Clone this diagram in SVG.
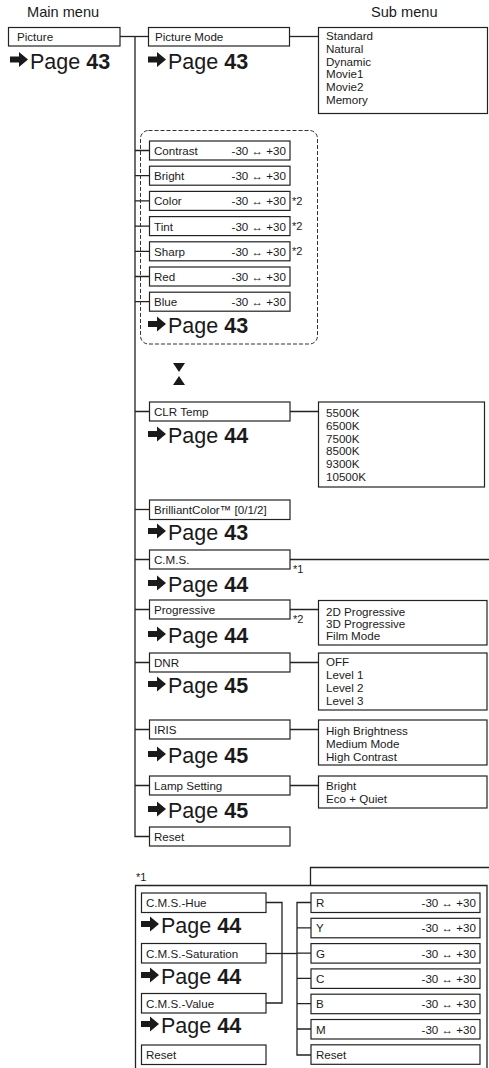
<svg xmlns="http://www.w3.org/2000/svg" xmlns:xlink="http://www.w3.org/1999/xlink" width="489" height="1068" viewBox="0 0 489 1068">
<style>
text{font-family:"Liberation Sans",Arial,sans-serif;fill:#1a1a1a}
.t{font-size:14.6px}
.l{font-size:11.6px}
.n{font-size:11px}
.p{font-size:21.5px}
.b{font-weight:bold}
.box{fill:#fff;stroke:#222;stroke-width:1.2}
.ln{fill:none;stroke:#222;stroke-width:1.3}
.dash{fill:none;stroke:#333;stroke-width:1;stroke-dasharray:4 2}
.r{text-anchor:end}
</style>
<defs>
<path id="arr" d="M0,-3 H9 V-7.5 L18,0 L9,7.5 V3 H0 Z" fill="#1a1a1a"/>
</defs>
<g id="titles">
<text class="t" x="27" y="17">Main menu</text>
<text class="t" x="371" y="17">Sub menu</text>
</g>
<g id="connectors">
<path class="ln" d="M120 36.5 H148.5"/>
<path class="ln" d="M135 36.5 V836.5 H149"/>
<path class="ln" d="M289.5 36.5 H318.5"/>
<path class="ln" d="M135 150.5 H149 M135 175.7 H149 M135 200.9 H149 M135 226.1 H149 M135 251.3 H149 M135 276.5 H149 M135 301.7 H149"/>
<path class="ln" d="M135 411.5 H149 M290 411.5 H318.5"/>
<path class="ln" d="M135 509.5 H149"/>
<path class="ln" d="M135 559.5 H149 M290 559.5 H489"/>
<path class="ln" d="M135 609.5 H149 M290 609.5 H318.5"/>
<path class="ln" d="M135 662.5 H149 M290 662.5 H318.5"/>
<path class="ln" d="M135 729.5 H149 M290 729.5 H318.5"/>
<path class="ln" d="M135 785.5 H149 M290 785.5 H318.5"/>
<path class="ln" d="M310.5 885.5 V867.5 H489"/>
<path class="ln" d="M266 902.5 H282 V1003 H266"/>
<path class="ln" d="M266 953.5 H297"/>
<path class="ln" d="M311 902.5 H297 V1055 H311 M297 927.8 H311 M297 953.1 H311 M297 978.4 H311 M297 1003.7 H311 M297 1029 H311"/>
</g>
<g id="picture">
<rect class="box" x="8.5" y="27.5" width="111.5" height="18.5"/>
<text class="l" x="17" y="40.5">Picture</text>
<use xlink:href="#arr" x="10" y="59.5"/>
<text class="p" x="30" y="68.5">Page <tspan class="b">43</tspan></text>
</g>
<g id="picture-mode">
<rect class="box" x="148.5" y="27.5" width="141" height="18.5"/>
<text class="l" x="155" y="40.5">Picture Mode</text>
<use xlink:href="#arr" x="148" y="59.5"/>
<text class="p" x="168" y="68.5">Page <tspan class="b">43</tspan></text>
</g>
<g id="picture-mode-sub">
<rect class="box" x="318.5" y="27.5" width="169" height="86"/>
<text class="l" x="326" y="40">Standard</text>
<text class="l" x="326" y="52.8">Natural</text>
<text class="l" x="326" y="65.6">Dynamic</text>
<text class="l" x="326" y="78.4">Movie1</text>
<text class="l" x="326" y="91.2">Movie2</text>
<text class="l" x="326" y="104">Memory</text>
</g>
<g id="adjust-group">
<rect class="dash" x="140.5" y="130.5" width="177" height="213.5" rx="8"/>
<rect class="box" x="149.5" y="141" width="140.5" height="19"/>
<text class="l" x="154" y="155">Contrast</text><text class="l r" x="286" y="155">-30 ↔ +30</text>
<rect class="box" x="149.5" y="166.2" width="140.5" height="19"/>
<text class="l" x="154" y="180.2">Bright</text><text class="l r" x="286" y="180.2">-30 ↔ +30</text>
<rect class="box" x="149.5" y="191.4" width="140.5" height="19"/>
<text class="l" x="154" y="205.4">Color</text><text class="l r" x="286" y="205.4">-30 ↔ +30</text><text class="n" x="292" y="205">*2</text>
<rect class="box" x="149.5" y="216.6" width="140.5" height="19"/>
<text class="l" x="154" y="230.6">Tint</text><text class="l r" x="286" y="230.6">-30 ↔ +30</text><text class="n" x="292" y="230.2">*2</text>
<rect class="box" x="149.5" y="241.8" width="140.5" height="19"/>
<text class="l" x="154" y="255.8">Sharp</text><text class="l r" x="286" y="255.8">-30 ↔ +30</text><text class="n" x="292" y="255.4">*2</text>
<rect class="box" x="149.5" y="267" width="140.5" height="19"/>
<text class="l" x="154" y="281">Red</text><text class="l r" x="286" y="281">-30 ↔ +30</text>
<rect class="box" x="149.5" y="292.2" width="140.5" height="19"/>
<text class="l" x="154" y="306.2">Blue</text><text class="l r" x="286" y="306.2">-30 ↔ +30</text>
<use xlink:href="#arr" x="148" y="324"/>
<text class="p" x="168" y="333">Page <tspan class="b">43</tspan></text>
</g>
<g id="updown">
<polygon points="173,363 185,363 179,372" fill="#1a1a1a"/>
<polygon points="179,376 173,385 185,385" fill="#1a1a1a"/>
</g>
<g id="clr-temp">
<rect class="box" x="149.5" y="402" width="140.5" height="19"/>
<text class="l" x="154" y="416">CLR Temp</text>
<use xlink:href="#arr" x="148" y="434"/>
<text class="p" x="168" y="443">Page <tspan class="b">44</tspan></text>
</g>
<g id="clr-temp-sub">
<rect class="box" x="318.5" y="402" width="166" height="85"/>
<text class="l" x="326" y="416.7">5500K</text>
<text class="l" x="326" y="429.6">6500K</text>
<text class="l" x="326" y="442.5">7500K</text>
<text class="l" x="326" y="455.4">8500K</text>
<text class="l" x="326" y="468.3">9300K</text>
<text class="l" x="326" y="481.2">10500K</text>
</g>
<g id="brilliantcolor">
<rect class="box" x="149.5" y="500" width="140.5" height="19.5"/>
<text class="l" x="154" y="514">BrilliantColor™ [0/1/2]</text>
<use xlink:href="#arr" x="148" y="531"/>
<text class="p" x="168" y="540">Page <tspan class="b">43</tspan></text>
</g>
<g id="cms">
<rect class="box" x="149.5" y="550" width="140.5" height="19"/>
<text class="l" x="154" y="564">C.M.S.</text>
<text class="n" x="293" y="573">*1</text>
<use xlink:href="#arr" x="148" y="583"/>
<text class="p" x="168" y="592">Page <tspan class="b">44</tspan></text>
</g>
<g id="progressive">
<rect class="box" x="149.5" y="600" width="140.5" height="19"/>
<text class="l" x="154" y="614">Progressive</text>
<text class="n" x="293" y="623">*2</text>
<use xlink:href="#arr" x="148" y="634"/>
<text class="p" x="168" y="643">Page <tspan class="b">44</tspan></text>
</g>
<g id="progressive-sub">
<rect class="box" x="318.5" y="600.5" width="168.5" height="44.5"/>
<text class="l" x="326" y="616">2D Progressive</text>
<text class="l" x="326" y="628">3D Progressive</text>
<text class="l" x="326" y="640">Film Mode</text>
</g>
<g id="dnr">
<rect class="box" x="149.5" y="653" width="140.5" height="19"/>
<text class="l" x="154" y="667">DNR</text>
<use xlink:href="#arr" x="148" y="684"/>
<text class="p" x="168" y="693">Page <tspan class="b">45</tspan></text>
</g>
<g id="dnr-sub">
<rect class="box" x="318.5" y="653" width="168.5" height="57"/>
<text class="l" x="326" y="666">OFF</text>
<text class="l" x="326" y="679">Level 1</text>
<text class="l" x="326" y="692">Level 2</text>
<text class="l" x="326" y="705">Level 3</text>
</g>
<g id="iris">
<rect class="box" x="149.5" y="720" width="140.5" height="19"/>
<text class="l" x="154" y="734">IRIS</text>
<use xlink:href="#arr" x="148" y="754"/>
<text class="p" x="168" y="763">Page <tspan class="b">45</tspan></text>
</g>
<g id="iris-sub">
<rect class="box" x="318.5" y="720" width="168.5" height="45"/>
<text class="l" x="326" y="735">High Brightness</text>
<text class="l" x="326" y="748">Medium Mode</text>
<text class="l" x="326" y="761">High Contrast</text>
</g>
<g id="lamp">
<rect class="box" x="149.5" y="776" width="140.5" height="19"/>
<text class="l" x="154" y="790">Lamp Setting</text>
<use xlink:href="#arr" x="148" y="809"/>
<text class="p" x="168" y="818">Page <tspan class="b">45</tspan></text>
</g>
<g id="lamp-sub">
<rect class="box" x="318.5" y="776" width="168.5" height="32"/>
<text class="l" x="326" y="790">Bright</text>
<text class="l" x="326" y="803">Eco + Quiet</text>
</g>
<g id="reset">
<rect class="box" x="149.5" y="827" width="140.5" height="19"/>
<text class="l" x="154" y="841">Reset</text>
</g>
<g id="cms-detail">
<text class="n" x="136" y="881">*1</text>
<path class="ln" d="M135.5 1068 V885.5 H487 V1068"/>
</g>
<g id="cms-hue">
<rect class="box" x="141.5" y="893" width="124.5" height="19.5"/>
<text class="l" x="146" y="907">C.M.S.-Hue</text>
<use xlink:href="#arr" x="141" y="924"/>
<text class="p" x="161" y="933">Page <tspan class="b">44</tspan></text>
</g>
<g id="cms-saturation">
<rect class="box" x="141.5" y="943.5" width="124.5" height="19.5"/>
<text class="l" x="146" y="957.5">C.M.S.-Saturation</text>
<use xlink:href="#arr" x="141" y="975"/>
<text class="p" x="161" y="984">Page <tspan class="b">44</tspan></text>
</g>
<g id="cms-value">
<rect class="box" x="141.5" y="993.5" width="124.5" height="19.5"/>
<text class="l" x="146" y="1007.5">C.M.S.-Value</text>
<use xlink:href="#arr" x="141" y="1024"/>
<text class="p" x="161" y="1033">Page <tspan class="b">44</tspan></text>
</g>
<g id="cms-reset">
<rect class="box" x="141.5" y="1045" width="124.5" height="19.5"/>
<text class="l" x="146" y="1059">Reset</text>
</g>
<g id="cms-colors">
<rect class="box" x="311" y="893" width="169" height="19.5"/>
<text class="l" x="316" y="907">R</text><text class="l r" x="476" y="907">-30 ↔ +30</text>
<rect class="box" x="311" y="918.3" width="169" height="19.5"/>
<text class="l" x="316" y="932.3">Y</text><text class="l r" x="476" y="932.3">-30 ↔ +30</text>
<rect class="box" x="311" y="943.6" width="169" height="19.5"/>
<text class="l" x="316" y="957.6">G</text><text class="l r" x="476" y="957.6">-30 ↔ +30</text>
<rect class="box" x="311" y="968.9" width="169" height="19.5"/>
<text class="l" x="316" y="982.9">C</text><text class="l r" x="476" y="982.9">-30 ↔ +30</text>
<rect class="box" x="311" y="994.2" width="169" height="19.5"/>
<text class="l" x="316" y="1008.2">B</text><text class="l r" x="476" y="1008.2">-30 ↔ +30</text>
<rect class="box" x="311" y="1019.5" width="169" height="19.5"/>
<text class="l" x="316" y="1033.5">M</text><text class="l r" x="476" y="1033.5">-30 ↔ +30</text>
<rect class="box" x="311" y="1044.8" width="169" height="19.5"/>
<text class="l" x="316" y="1058.8">Reset</text>
</g>
</svg>
